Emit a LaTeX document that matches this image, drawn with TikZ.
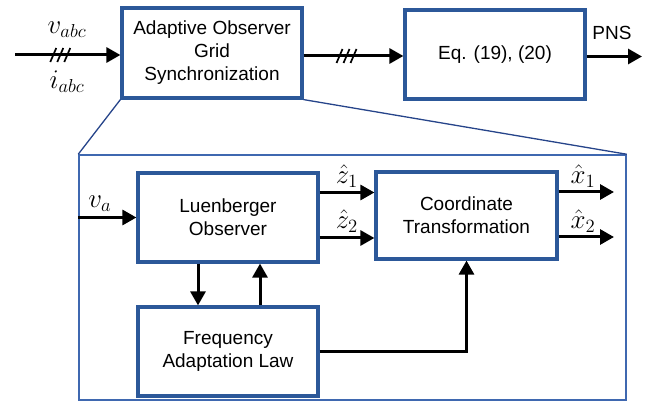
\documentclass[tikz,border=0pt]{standalone}
\usepackage{fontspec}
\setmainfont{Liberation Sans}
\usetikzlibrary{arrows.meta}
\definecolor{boxblue}{HTML}{2C5899}
\definecolor{frameblue}{HTML}{3F68B0}
\definecolor{zoomblue}{HTML}{26448A}
\begin{document}
\begin{tikzpicture}[x=1pt,y=-1pt,
  blk/.style={draw=boxblue, line width=3.2pt, fill=white, align=center,
    font=\fontsize{19}{23}\selectfont, inner sep=0pt},
  conn/.style={line width=3pt, -{Triangle[length=14pt,width=15pt]}},
  hashmark/.pic={\draw[line width=1.7pt, arrows=-] (-9,7)--(-3,-7) (-2,7)--(4,-7) (5,7)--(11,-7);},
  lbl/.style={font=\fontsize{20.74}{24}\selectfont, scale=1.3, inner sep=0pt},
  txt/.style={font=\fontsize{19}{23}\selectfont, inner sep=0pt}]
\useasboundingbox (0,0) rectangle (651,403);

% zoom frame
\node[draw=frameblue, line width=1.5pt, minimum width=547pt, minimum height=245pt, inner sep=0pt] (frame) at (352.5,277.5) {};

% top level blocks
\node[blk, minimum width=180pt, minimum height=90pt] (aogs) at (212,53) {Adaptive Observer\\Grid\\Synchronization};
\node[blk, minimum width=180pt, minimum height=89pt] (eq) at (495,54.5) {Eq. (19), (20)};

% zoom lines
\draw[zoomblue, line width=1.3pt] (aogs.south west) -- (frame.north west);
\draw[zoomblue, line width=1.3pt] (aogs.south east) -- (frame.north east);

% inner blocks
\node[blk, minimum width=180pt, minimum height=89pt] (luen) at (228,217.5) {Luenberger\\Observer};
\node[blk, minimum width=181pt, minimum height=87pt] (coord) at (466.5,215.5) {Coordinate\\Transformation};
\node[blk, minimum width=180pt, minimum height=89pt] (freq) at (228,351.5) {Frequency\\Adaptation Law};

% top-level connectors
\coordinate (vin) at (15,55);
\draw[conn] (vin) -- pic[pos=0.42]{hashmark} (vin -| aogs.west);
\node[lbl, anchor=south] (vabc) at (67,38) {$v_{abc}$};
\node[lbl, anchor=south] (iabc) at (67,93) {$i_{abc}$};

\draw[conn] ([yshift=-3pt]aogs.east) coordinate (m1) -- pic[pos=0.42]{hashmark} (m1 -| eq.west);

\coordinate (pnsend) at (642,56.5);
\draw[conn] (pnsend -| eq.east) -- (pnsend);
\node[txt] (pns) at (612,33) {PNS};

% inner connectors
\draw[conn] (luen.west -| frame.west) -- (luen.west);
\node[lbl, anchor=south] (va) at (100,212) {$v_a$};

\draw[conn] ([yshift=25pt]luen.east) coordinate (z1s) -- (z1s -| coord.west);
\draw[conn] ([yshift=-20.5pt]luen.east) coordinate (z2s) -- (z2s -| coord.west);
\node[lbl, anchor=south] (z1) at (347,188) {$\hat{z}_1$};
\node[lbl, anchor=south] (z2) at (347,233) {$\hat{z}_2$};

\coordinate (x1end) at (614,192);
\coordinate (x2end) at (614,237);
\draw[conn] (x1end -| coord.east) -- (x1end);
\draw[conn] (x2end -| coord.east) -- (x2end);
\node[lbl, anchor=south] (x1) at (583,188) {$\hat{x}_1$};
\node[lbl, anchor=south] (x2) at (583,233) {$\hat{x}_2$};

\coordinate (dnx) at (198,0);
\coordinate (upx) at (260,0);
\draw[conn] (luen.south -| dnx) -- (freq.north -| dnx);
\draw[conn] (freq.north -| upx) -- (luen.south -| upx);

\draw[conn] (freq.east) -| (coord.south);
\end{tikzpicture}
\end{document}
